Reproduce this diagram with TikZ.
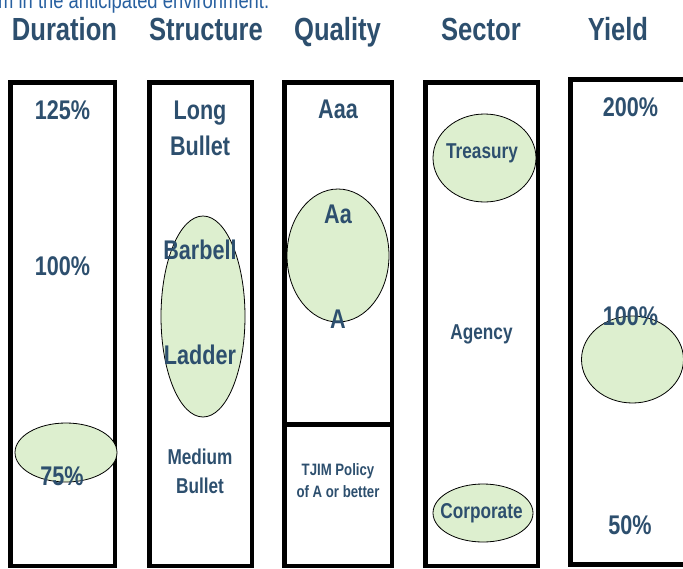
\documentclass[tikz,border=0pt]{standalone}
\usepackage{fontspec}
\setmainfont{Liberation Sans}[FakeStretch=0.8]
\definecolor{txt}{HTML}{2D4F6E}
\definecolor{toptxt}{HTML}{2860A0}
\definecolor{fillg}{HTML}{DDEFCF}
\begin{document}
\begin{tikzpicture}[x=1pt,y=-1pt,
  box/.style={draw=black,line width=4.5pt},
  blob/.style={draw=black,line width=0.8pt,fill=fillg},
  lbl/.style={inner sep=0pt,anchor=base,text=txt},
  hd/.style={lbl,font=\fontsize{32}{36}\selectfont\bfseries},
  big/.style={lbl,font=\fontsize{27}{32}\selectfont\bfseries},
  mid/.style={lbl,font=\fontsize{21.5}{26}\selectfont\bfseries},
  sm/.style={lbl,font=\fontsize{16.5}{20}\selectfont\bfseries}]
\useasboundingbox (0,0) rectangle (683,568);
\begin{scope}
\clip (0,0) rectangle (683,568);
% top clipped line
\node[inner sep=0pt,anchor=base west,text=toptxt,font=\fontsize{23}{26}\selectfont] (top) at (-2,8) {m in the anticipated environment.};
% boxes
\draw[box] (10.25,82.25) rectangle (114.75,566);
\draw[box] (149.25,82.25) rectangle (251.75,566);
\draw[box] (284.25,82.25) rectangle (391.75,566);
\draw[box] (284.25,424.5) -- (391.75,424.5);
\draw[box] (425.25,82.25) rectangle (537.75,566);
\draw[box,line width=5pt] (570.5,79.5) rectangle (695,564.5);
% ellipses
\draw[blob] (66,452.5) ellipse [x radius=51pt, y radius=29.5pt];
\draw[blob] (203,316.5) ellipse [x radius=42pt, y radius=100.5pt];
\draw[blob] (338,255.5) ellipse [x radius=51pt, y radius=66.5pt];
\draw[blob] (484.5,158) ellipse [x radius=51.5pt, y radius=44pt];
\draw[blob] (483,513) ellipse [x radius=50pt, y radius=29pt];
\draw[blob] (632.5,359.5) ellipse [x radius=51pt, y radius=43.5pt];
\end{scope}
% headings
\node[hd] (hdur) at (64.5,40) {Duration};
\node[hd] (hstr) at (206,40) {Structure};
\node[hd] (hqua) at (337.5,40) {Quality};
\node[hd] (hsec) at (481,40) {Sector};
\node[hd] (hyie) at (618,40) {Yield};
% duration
\node[big] (d125) at (62.5,119) {125\%};
\node[big] (d100) at (62.5,275) {100\%};
\node[big] (d75) at (62,485) {75\%};
% structure
\node[big] (longA) at (200,119) {Long};
\node[big] (longB) at (200,155) {Bullet};
\node[big] (barbell) at (200,259) {Barbell};
\node[big] (ladder) at (200,364) {Ladder};
\node[mid] (medA) at (200,464) {Medium};
\node[mid] (medB) at (200,493) {Bullet};
% quality
\node[big] (aaa) at (338,118) {Aaa};
\node[big] (aa) at (338,223) {Aa};
\node[big] (a) at (338,328) {A};
\node[sm] (polA) at (338,475) {TJIM Policy};
\node[sm] (polB) at (338,497) {of A or better};
% sector
\node[mid] (treas) at (482,158) {Treasury};
\node[mid] (agency) at (481.5,339) {Agency};
\node[mid] (corp) at (481.5,518) {Corporate};
% yield
\node[big] (y200) at (630.5,116) {200\%};
\node[big] (y100) at (630.5,325) {100\%};
\node[big] (y50) at (630,534) {50\%};
\end{tikzpicture}
\end{document}
